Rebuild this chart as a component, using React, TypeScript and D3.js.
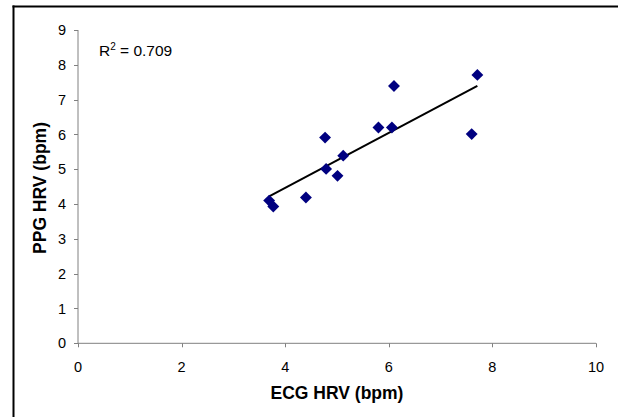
import * as d3 from "d3";

// ECG HRV vs PPG HRV (bpm)
const ecgHrv = [3.69, 3.77, 4.4, 4.77, 4.79, 5.01, 5.12, 5.8, 6.06, 6.1, 7.6, 7.71];
const ppgHrv = [4.1, 3.93, 4.19, 5.91, 5.01, 4.81, 5.39, 6.2, 6.2, 7.39, 6.01, 7.71];
const xTicks = [0, 2, 4, 6, 8, 10];
const yTicks = [0, 1, 2, 3, 4, 5, 6, 7, 8, 9];
const rSquared = "0.709";

export default function App() {
  const width = 618, height = 417;
  const x = d3.scaleLinear().domain([0, 10]).range([78, 596]);
  const y = d3.scaleLinear().domain([0, 9]).range([343.3, 30]);

  const pts = ecgHrv.map((v, i) => ({ x: v, y: ppgHrv[i] }));

  // least squares trend line
  const mx = d3.mean(ecgHrv)!, my = d3.mean(ppgHrv)!;
  const sxy = d3.sum(pts, d => (d.x - mx) * (d.y - my));
  const sxx = d3.sum(pts, d => (d.x - mx) ** 2);
  const slope = sxy / sxx, icpt = my - slope * mx;
  const [x0, x1] = d3.extent(ecgHrv) as [number, number];
  const trend = d3.line<number>().x(v => x(v)).y(v => y(icpt + slope * v))([x0, x1]);

  const diamond = d3.symbol(d3.symbolDiamond2, 90)();
  const font = "'Liberation Sans', Arial, sans-serif";

  return (
    <svg width={width} height={height} style={{ position: "absolute", left: 0, top: 0, background: "#fff" }} fontFamily={font}>
      <rect x={0} y={0} width={width} height={height} fill="#fff" />
      {/* outer chart border (right/bottom cropped off) */}
      <line x1={13.5} x2={13.5} y1={5.5} y2={height} stroke="#000" strokeWidth={2} />
      <line x1={12.5} x2={width} y1={6.5} y2={6.5} stroke="#000" strokeWidth={2} />

      {/* axes */}
      <line x1={x(0)} x2={x(0)} y1={y(0)} y2={y(9)} stroke="#808080" strokeWidth={1} />
      <line x1={x(0)} x2={x(10)} y1={y(0)} y2={y(0)} stroke="#808080" strokeWidth={1} />
      {yTicks.map(t => (
        <g key={"y" + t}>
          <line x1={x(0) - 4} x2={x(0)} y1={Math.round(y(t)) + 0.5} y2={Math.round(y(t)) + 0.5} stroke="#808080" />
          <text x={66} y={y(t)} dy="0.35em" textAnchor="end" fontSize={14.5}>{t}</text>
        </g>
      ))}
      {xTicks.map(t => (
        <g key={"x" + t}>
          <line x1={Math.round(x(t)) + 0.5} x2={Math.round(x(t)) + 0.5} y1={y(0)} y2={y(0) + 4} stroke="#808080" />
          <text x={x(t)} y={366.5} dy="0.35em" textAnchor="middle" fontSize={14.5}>{t}</text>
        </g>
      ))}

      <text x={337} y={399} textAnchor="middle" fontSize={17.5} fontWeight="bold">ECG HRV (bpm)</text>
      <text transform="translate(40,188) rotate(-90)" dy="0.35em" textAnchor="middle" fontSize={17.5} fontWeight="bold">PPG HRV (bpm)</text>

      {/* trend line */}
      <path d={trend || ""} fill="none" stroke="#000" strokeWidth={2} />

      {/* points */}
      {pts.map((d, i) => (
        <path key={i} d={diamond || ""} transform={`translate(${x(d.x)},${y(d.y)})`} fill="#000080" />
      ))}

      <text x={99} y={50.5} dy="0.35em" fontSize={15.5}>
        R<tspan dy="-6" fontSize={10}>2</tspan><tspan dy="6"> = {rSquared}</tspan>
      </text>
    </svg>
  );
}
